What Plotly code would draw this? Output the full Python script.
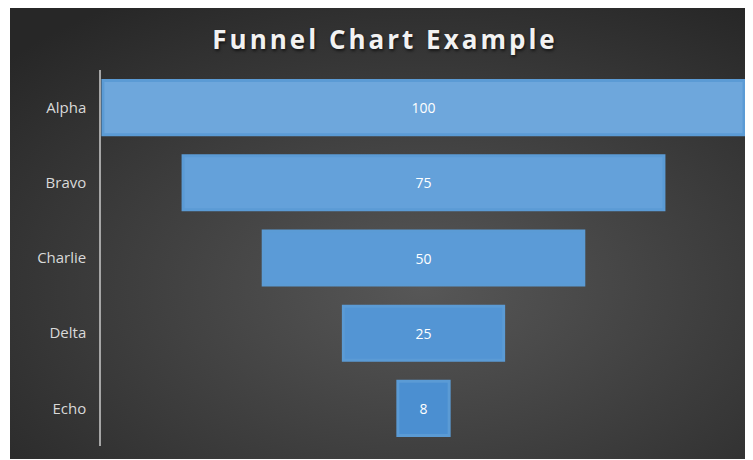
import base64
import plotly.graph_objects as go

categories = ["Alpha", "Bravo", "Charlie", "Delta", "Echo"]
values = [100, 75, 50, 25, 8]
bar_colors = ["#6ea7dc", "#64a1da", "#5b9bd7", "#5395d4", "#4b8fd1"]
title_text = "Funnel Chart Example"

svg = (
    '<svg xmlns="http://www.w3.org/2000/svg" width="751" height="451" preserveAspectRatio="none">'
    '<defs><radialGradient id="g" cx="55%" cy="62%" r="75%">'
    '<stop offset="0%" stop-color="#575757"/>'
    '<stop offset="100%" stop-color="#272727"/>'
    '</radialGradient></defs>'
    '<rect width="751" height="451" fill="url(#g)"/></svg>'
)
svg_uri = "data:image/svg+xml;base64," + base64.b64encode(svg.encode()).decode()

fig = go.Figure(
    go.Funnel(
        y=categories,
        x=values,
        textinfo="value",
        textposition="inside",
        insidetextfont=dict(color="#ffffff", size=14, family="Open Sans"),
        marker=dict(color=bar_colors, line=dict(color="#5b9bd5", width=3)),
        connector=dict(visible=False),
        hoverinfo="y+x",
    )
)

W, H = 753, 460
ml, mr, mt, mb = 93, 15, 62, 22
pw = W - ml - mr
ph = H - mt - mb
x0, y0, x1, y1 = 2, 0, 753, 451
fig.add_layout_image(
    source=svg_uri,
    xref="paper", yref="paper",
    x=(x0 - ml) / pw, y=(H - mb - y0) / ph,
    sizex=(x1 - x0) / pw, sizey=(y1 - y0) / ph,
    xanchor="left", yanchor="top",
    sizing="stretch", layer="below",
)

fig.update_layout(
    width=W, height=H,
    margin=dict(l=ml, r=mr, t=mt, b=mb),
    paper_bgcolor="#ffffff",
    plot_bgcolor="rgba(0,0,0,0)",
    title=dict(
        text='<span style="letter-spacing:3px">' + title_text + '</span>',
        x=377 / W, xref="container", xanchor="center",
        y=1 - 32 / H, yref="container", yanchor="middle",
        font=dict(family="Open Sans", size=26, weight="bold", color="#f2f2f2",
                  shadow="1px 2px 3px rgba(0,0,0,0.6)"),
    ),
    funnelgap=0.28,
    showlegend=False,
    xaxis=dict(visible=False, range=[-50.3, 50.3], fixedrange=True),
    yaxis=dict(
        showline=True, linecolor="#a6a6a6", linewidth=1.5,
        ticks="", showgrid=False, zeroline=False,
        tickfont=dict(family="Open Sans", size=15, color="#d9d9d9"),
        ticklabelstandoff=10,
    ),
)

fig.write_html("out.html")
